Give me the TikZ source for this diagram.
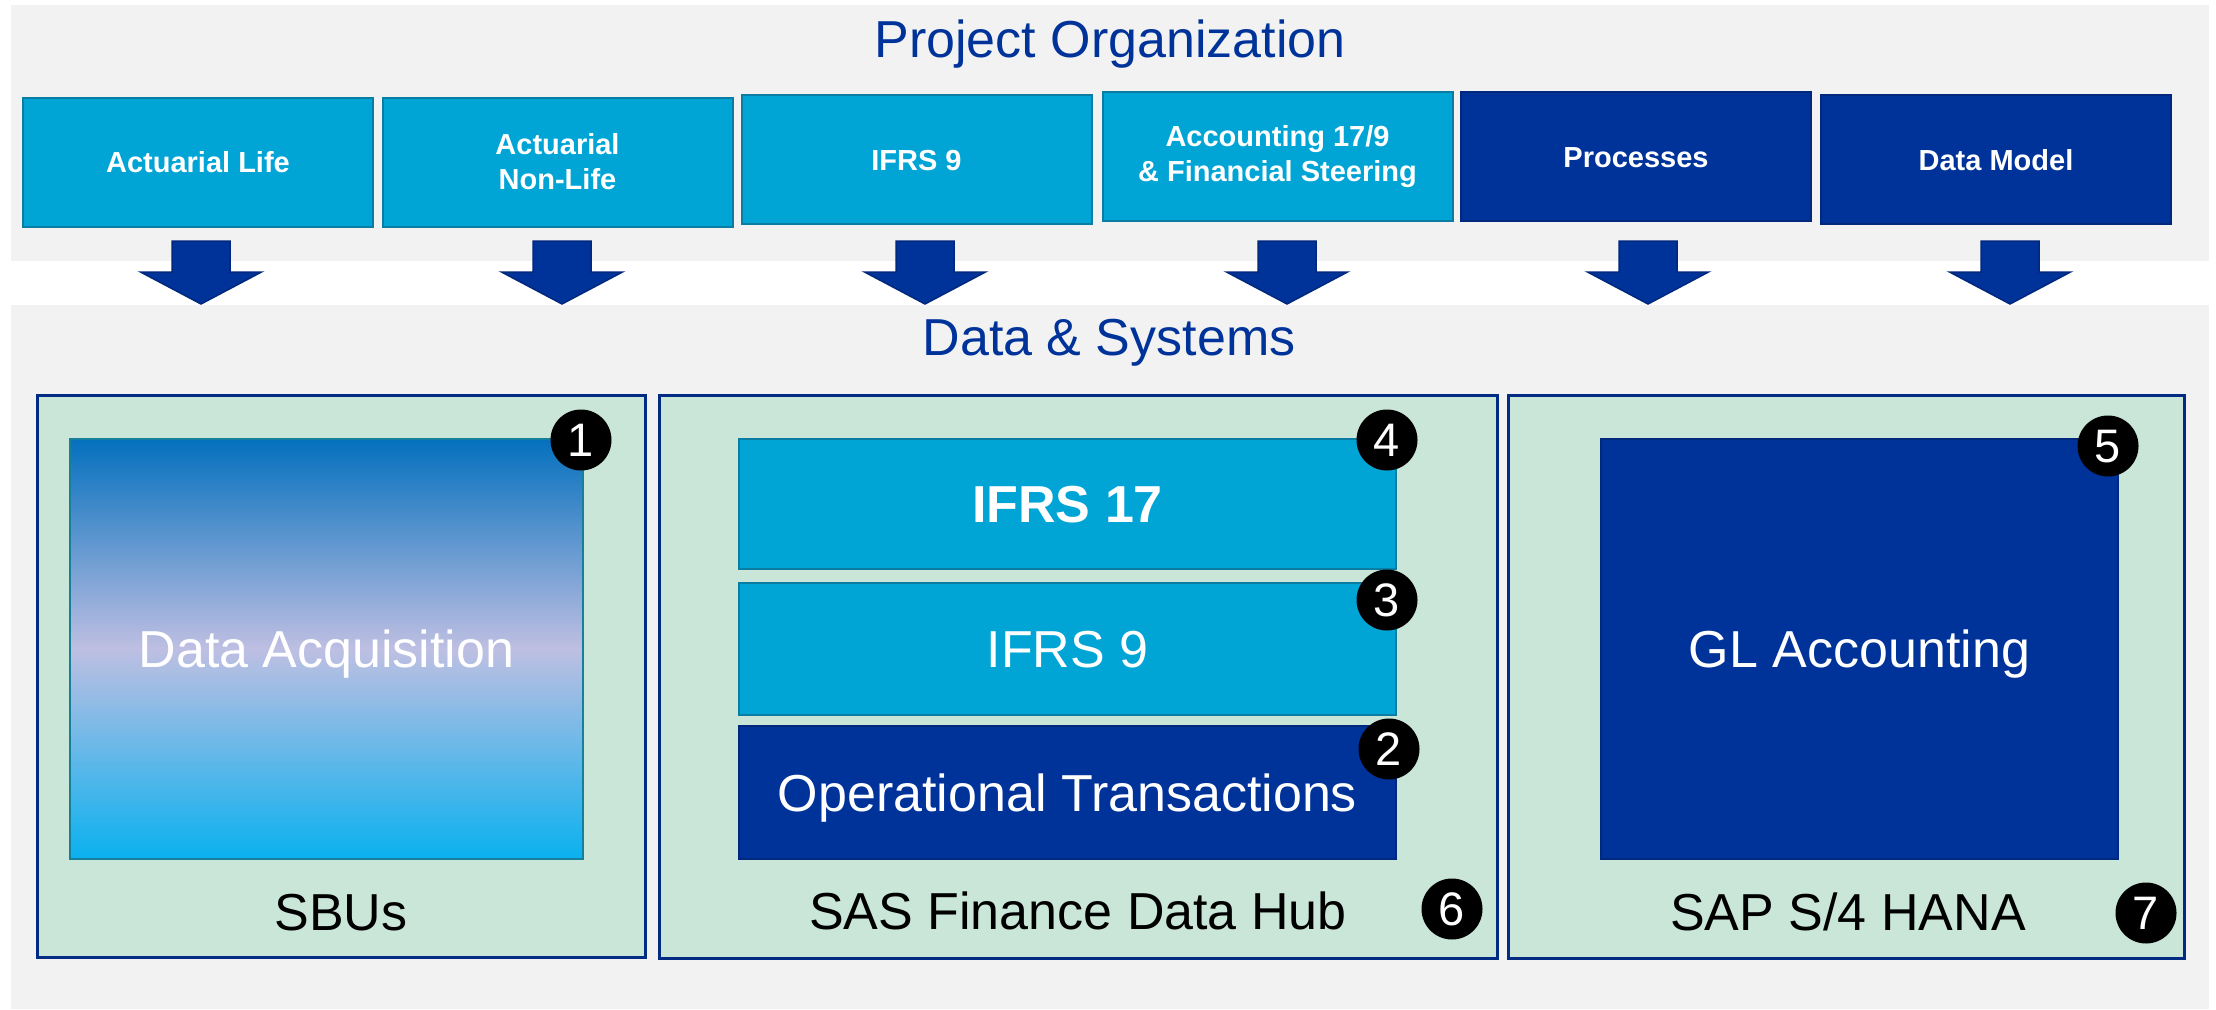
\documentclass[tikz,border=0pt]{standalone}
\usepackage{fontspec}
\setmainfont{Liberation Sans}
\definecolor{panelgray}{HTML}{F2F2F2}
\definecolor{lblue}{HTML}{00A5D6}
\definecolor{lbborder}{HTML}{0B7DA2}
\definecolor{dblue}{HTML}{003399}
\definecolor{dbborder}{HTML}{00287C}
\definecolor{pgreen}{HTML}{C9E6D8}
\definecolor{pnavy}{HTML}{022B84}
\definecolor{gradtop}{HTML}{0470BE}
\definecolor{gradmid}{HTML}{BEBFE2}
\definecolor{gradbot}{HTML}{0AB1EF}
\definecolor{gradborder}{HTML}{157F9C}
\begin{document}
\begin{tikzpicture}[x=1pt,y=-1pt,
  titletext/.style={font=\fontsize{52}{60}\selectfont, text=dblue, inner sep=0pt},
  topbox/.style={rectangle, minimum width=350pt, minimum height=129pt, inner sep=0pt,
    line width=2pt, align=center, text=white, font=\bfseries\fontsize{29}{35}\selectfont},
  lightbox/.style={topbox, fill=lblue, draw=lbborder},
  darkbox/.style={topbox, fill=dblue, draw=dbborder},
  blockarrow/.style={fill=dblue, draw=dbborder, line width=1.5pt, line join=miter},
  panel/.style={rectangle, fill=pgreen, draw=pnavy, line width=3pt, inner sep=0pt},
  inbox/.style={rectangle, inner sep=0pt, line width=2pt, text=white,
    font=\fontsize{52}{60}\selectfont, text height=37pt, text depth=0pt},
  panellabel/.style={font=\fontsize{52}{60}\selectfont, text=black, inner sep=0pt},
  badge/.style={circle, fill=black, text=white, minimum size=61pt, inner sep=0pt,
    font=\fontsize{47}{50}\selectfont, text height=33pt, text depth=0pt}
]
\useasboundingbox (0,0) rectangle (2216,1009);
\fill[panelgray] (11,5) rectangle (2209,261);
\fill[panelgray] (11,305) rectangle (2209,1009);

% titles
\node[titletext, anchor=base] (potitle) at (1110,57) {Project Organization};
\node[titletext, anchor=base] (dstitle) at (1109,355) {Data \& Systems};

% top row
\node[lightbox, text height=21pt, text depth=0pt] (b1) at (198,162) {Actuarial Life};
\node[lightbox] (b2) at (557.5,162) {Actuarial\\Non-Life};
\node[lightbox, text height=21pt, text depth=0pt] (b3) at (916.5,159.5) {IFRS 9};
\node[lightbox] (b4) at (1277.5,156.5) {Accounting 17/9\\\& Financial Steering};
\node[darkbox, text height=21pt, text depth=0pt] (b5) at (1636,156.5) {Processes};
\node[darkbox, text height=21pt, text depth=0pt] (b6) at (1996,159.5) {Data Model};

% block arrows
\foreach \n/\x in {a1/201, a2/562, a3/925, a4/1287, a5/1648, a6/2010} {
  \coordinate (\n) at (\x,241);
  \draw[blockarrow] (\n) ++(-29,0) -- ++(58,0) -- ++(0,31) -- ++(31.5,0)
    -- ++(-60.5,32) -- ++(-60.5,-32) -- ++(31.5,0) -- cycle;
}

% bottom panels
\node[panel, minimum width=608pt, minimum height=562pt] (p1) at (341,676) {};
\node[panel, minimum width=838pt, minimum height=563pt] (p2) at (1078,676.5) {};
\node[panel, minimum width=676pt, minimum height=563pt] (p3) at (1846,676.5) {};

% inner boxes
\node[inbox, draw=gradborder, top color=gradtop, bottom color=gradbot, middle color=gradmid,
  minimum width=513pt, minimum height=420pt] (da) at (326.5,649) {Data Acquisition};
\node[inbox, fill=lblue, draw=lbborder, minimum width=657pt, minimum height=130pt,
  font=\bfseries\fontsize{52}{60}\selectfont] (i17) at (1067.5,504) {IFRS 17};
\node[inbox, fill=lblue, draw=lbborder, minimum width=657pt, minimum height=132pt] (i9) at (1067.5,649) {IFRS 9};
\node[inbox, fill=dblue, draw=dbborder, minimum width=657pt, minimum height=133pt] (op) at (1067.5,792.5) {Operational Transactions};
\node[inbox, fill=dblue, draw=dbborder, minimum width=517pt, minimum height=420pt] (gl) at (1859.5,649) {GL Accounting};

% panel labels
\node[panellabel, anchor=base] (l1) at (341,930) {SBUs};
\node[panellabel, anchor=base] (l2) at (1078,929) {SAS Finance Data Hub};
\node[panellabel, anchor=base] (l3) at (1848,930) {SAP S/4 HANA};

% badges
\node[badge] (n1) at (581,440) {1};
\node[badge] (n4) at (1387,440) {4};
\node[badge] (n3) at (1387,600) {3};
\node[badge] (n2) at (1389,749) {2};
\node[badge] (n6) at (1452,909) {6};
\node[badge] (n5) at (2108,446) {5};
\node[badge] (n7) at (2146,913) {7};
\end{tikzpicture}
\end{document}
